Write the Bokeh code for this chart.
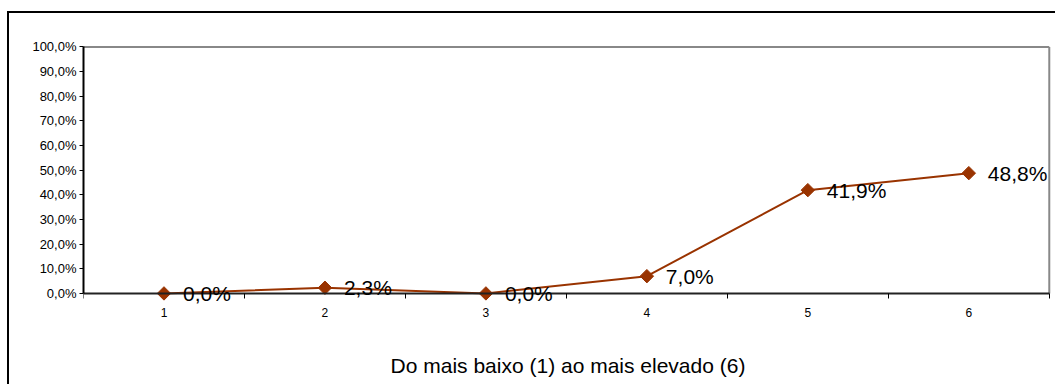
from bokeh.plotting import figure
from bokeh.models import (FixedTicker, ColumnDataSource, Range1d, Label,
                          LinearAxis, CustomJSTickFormatter)
from bokeh.embed import file_html
from bokeh.resources import INLINE

# ---- data ----
categories = ["1", "2", "3", "4", "5", "6"]
values = [0.0, 2.3, 0.0, 7.0, 41.9, 48.8]
y_ticks = [0, 10, 20, 30, 40, 50, 60, 70, 80, 90, 100]
y_tick_labels = ["0,0%", "10,0%", "20,0%", "30,0%", "40,0%", "50,0%",
                 "60,0%", "70,0%", "80,0%", "90,0%", "100,0%"]
x_title = "Do mais baixo (1) ao mais elevado (6)"

FONT = "Liberation Sans"
COLOR = "#993300"

x_pos = [i + 1 for i in range(len(categories))]
x_lo, x_hi = x_pos[0] - 0.5, x_pos[-1] + 0.5
boundaries = [x - 0.5 for x in x_pos] + [x_hi]
y_lo, y_hi = y_ticks[0], y_ticks[-1]
point_labels = [("%.1f%%" % v).replace(".", ",") for v in values]
src = ColumnDataSource(dict(x=x_pos, y=values, lab=point_labels))

# frame extends slightly beyond the axes so that the value labels are not clipped
p = figure(width=1048, height=373, output_backend="svg", toolbar_location=None,
           x_range=Range1d(x_lo, x_hi + 0.02), y_range=Range1d(y_lo - 4.5, y_hi + 1),
           min_border_left=74, min_border_top=31, min_border_bottom=82,
           min_border_right=5)
p.styles = {"border-left": "2px solid black", "border-top": "2px solid black",
            "margin-top": "11px", "margin-left": "7px"}

p.xgrid.visible = False
p.ygrid.visible = False
p.background_fill_color = "white"
p.border_fill_color = "white"
p.outline_line_color = None

# plot-area border (top and right, grey)
p.segment(x0=[x_lo, x_hi], y0=[y_hi, y_lo], x1=[x_hi, x_hi], y1=[y_hi, y_hi],
          line_color="#888888", line_width=2)

# x axis: labels only, at the bottom of the panel
xa = p.xaxis[0]
xa.ticker = FixedTicker(ticks=x_pos, minor_ticks=[])
xa.major_label_overrides = {x: c for x, c in zip(x_pos, categories)}
xa.axis_line_color = None
xa.major_tick_line_color = None
xa.minor_tick_line_color = None
xa.major_tick_out = 0
xa.major_tick_in = 0
xa.minor_tick_out = 0
xa.minor_tick_in = 0
xa.major_label_text_font = FONT
xa.major_label_text_font_size = "12px"
xa.major_label_text_color = "black"
xa.major_label_standoff = 3
xa.axis_label = x_title
xa.axis_label_text_font = FONT
xa.axis_label_text_font_size = "21px"
xa.axis_label_text_font_style = "normal"
xa.axis_label_text_color = "black"
xa.axis_label_standoff = 34

# x axis line at 0 with ticks between categories
xl = LinearAxis(fixed_location=y_lo, bounds=(x_lo, x_hi),
                ticker=FixedTicker(ticks=boundaries, minor_ticks=[]),
                formatter=CustomJSTickFormatter(code="return ''"),
                major_tick_in=5, major_tick_out=0,
                major_tick_line_color="black",
                minor_tick_line_color=None,
                axis_line_color="#222222", axis_line_width=2)
p.add_layout(xl, "above")

# y axis
ya = p.yaxis[0]
ya.bounds = (y_lo, y_hi)
ya.ticker = FixedTicker(ticks=y_ticks, minor_ticks=[])
ya.major_label_overrides = {t: l for t, l in zip(y_ticks, y_tick_labels)}
ya.major_tick_out = 4
ya.major_tick_in = 0
ya.major_tick_line_color = "black"
ya.axis_line_color = "black"
ya.axis_line_width = 2
ya.major_label_text_font = FONT
ya.major_label_text_font_size = "13px"
ya.major_label_text_color = "black"
ya.major_label_standoff = 3

p.line("x", "y", source=src, line_color=COLOR, line_width=2)
p.scatter("x", "y", source=src, marker="square", size=9.5, angle=0.785398,
          fill_color=COLOR, line_color=COLOR)

for xv, yv, lab in zip(x_pos, values, point_labels):
    p.add_layout(Label(x=xv, y=yv, text=lab, x_offset=19, y_offset=0,
                       text_baseline="middle", text_align="left",
                       text_font=FONT, text_font_size="21px",
                       text_color="black"))

open("out.html", "w").write(file_html(p, INLINE))
